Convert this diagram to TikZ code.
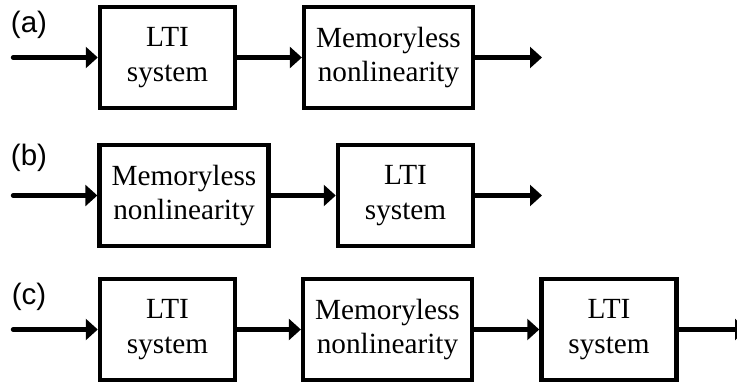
\documentclass[tikz,border=0pt]{standalone}
\usepackage{fontspec}
\setmainfont{Liberation Serif}
\newfontfamily\labfont{Liberation Sans}
\usetikzlibrary{arrows.meta}
\begin{document}
\begin{tikzpicture}
			[x=0.025cm, y=-0.025cm, line width=0.11cm, line cap=round,
			>={Triangle[length=0.3cm,width=0.52cm]},
			block/.style={draw, line cap=butt, minimum width=3.375cm, minimum height=2.525cm,
				inner sep=0pt, align=center, font=\fontsize{20.8}{24.5}\selectfont},
			wide/.style={block, minimum width=4.22cm},
			tag/.style={font=\labfont\fontsize{21}{23}\selectfont}]
			\useasboundingbox (0,0) rectangle (737,387);
			% (a)
			\node[tag] (taga) at (29,25) {(a)};
			\coordinate (ina) at (13,57.5);
			\node[block] (lti1) at (167.5,57.5) {LTI\\system};
			\node[wide] (nl1) at (388.5,57.5) {Memoryless\\nonlinearity};
			\coordinate (outa) at (542,57.5);
			\draw[->] (ina)--(lti1);
			\draw[->] (lti1)--(nl1);
			\draw[->] (nl1)--(outa);
			% (b)
			\node[tag] (tagb) at (29,158) {(b)};
			\coordinate (inb) at (13,195.5);
			\node[wide] (nl2) at (184,195.5) {Memoryless\\nonlinearity};
			\node[block] (lti2) at (405.5,195.5) {LTI\\system};
			\coordinate (outb) at (542,195.5);
			\draw[->] (inb)--(nl2);
			\draw[->] (nl2)--(lti2);
			\draw[->] (lti2)--(outb);
			% (c)
			\node[tag] (tagc) at (29,297) {(c)};
			\coordinate (inc) at (13,329.5);
			\node[block] (lti3) at (167.5,329.5) {LTI\\system};
			\node[wide] (nl3) at (387.5,329.5) {Memoryless\\nonlinearity};
			\node[block] (lti4) at (609,329.5) {LTI\\system};
			\coordinate (outc) at (747,329.5);
			\draw[->] (inc)--(lti3);
			\draw[->] (lti3)--(nl3);
			\draw[->] (nl3)--(lti4);
			\draw[->] (lti4)--(outc);
		\end{tikzpicture}
\end{document}
